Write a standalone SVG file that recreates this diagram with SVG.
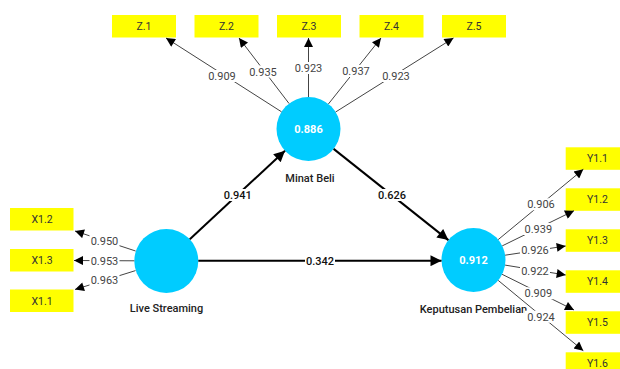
<svg xmlns="http://www.w3.org/2000/svg" width="620" height="369" viewBox="0 0 620 369">
<style>
.ind{fill:#ffff00}
.it{font-family:Roboto,"Liberation Sans",sans-serif;font-size:10.5px;fill:#333;text-anchor:middle}
.lv{fill:#00ccff}
.lvv{font-family:Roboto,"Liberation Sans",sans-serif;font-size:11px;font-weight:700;fill:#fff;text-anchor:middle}
.lvn{font-family:Roboto,"Liberation Sans",sans-serif;font-size:11px;font-weight:500;fill:#222;text-anchor:middle}
.ld{stroke:#444;stroke-width:1;fill:none;marker-end:url(#ah)}
.st{stroke:#000;stroke-width:2;fill:none;marker-end:url(#ahb)}
.lbg{fill:#fff}
.ll{font-family:Roboto,"Liberation Sans",sans-serif;font-size:11px;fill:#444;text-anchor:middle}
.sl{font-family:Roboto,"Liberation Sans",sans-serif;font-size:11px;font-weight:500;fill:#111;text-anchor:middle}
</style>
<defs>
<marker id="ah" viewBox="0 0 10 10" refX="10" refY="5" markerWidth="11" markerHeight="9" markerUnits="userSpaceOnUse" orient="auto"><path d="M0,0L10,5L0,10z" fill="#000"/></marker>
<marker id="ahb" viewBox="0 0 10 10" refX="10" refY="5" markerWidth="13" markerHeight="11" markerUnits="userSpaceOnUse" orient="auto"><path d="M0,0L10,5L0,10z" fill="#000"/></marker>
</defs>
<rect width="620" height="369" fill="#fff"/>

<g id="z1"><rect class="ind" x="112" y="15" width="64" height="22.5"/><text class="it" x="144" y="30">Z.1</text></g>
<g id="z2"><rect class="ind" x="194.5" y="15" width="64" height="22.5"/><text class="it" x="226.5" y="30">Z.2</text></g>
<g id="z3"><rect class="ind" x="277" y="15" width="64" height="22.5"/><text class="it" x="309" y="30">Z.3</text></g>
<g id="z4"><rect class="ind" x="359.5" y="15" width="64" height="22.5"/><text class="it" x="391.5" y="30">Z.4</text></g>
<g id="z5"><rect class="ind" x="442" y="15" width="64" height="22.5"/><text class="it" x="474" y="30">Z.5</text></g>

<g id="x12"><rect class="ind" x="10" y="208" width="63.5" height="22.5"/><text class="it" x="42" y="223">X1.2</text></g>
<g id="x13"><rect class="ind" x="10" y="249" width="63.5" height="22.5"/><text class="it" x="42" y="264">X1.3</text></g>
<g id="x11"><rect class="ind" x="10" y="289.5" width="63.5" height="22.5"/><text class="it" x="42" y="304.5">X1.1</text></g>

<g id="y11"><rect class="ind" x="565.7" y="147.3" width="64" height="22.5"/><text class="it" x="597.5" y="162.3">Y1.1</text></g>
<g id="y12"><rect class="ind" x="565.7" y="188.3" width="64" height="22.5"/><text class="it" x="597.5" y="203.3">Y1.2</text></g>
<g id="y13"><rect class="ind" x="565.7" y="229.3" width="64" height="22.5"/><text class="it" x="597.5" y="244.3">Y1.3</text></g>
<g id="y14"><rect class="ind" x="565.7" y="270.3" width="64" height="22.5"/><text class="it" x="597.5" y="285.3">Y1.4</text></g>
<g id="y15"><rect class="ind" x="565.7" y="311.3" width="64" height="22.5"/><text class="it" x="597.5" y="326.3">Y1.5</text></g>
<g id="y16"><rect class="ind" x="565.7" y="352.3" width="64" height="22.5"/><text class="it" x="597.5" y="367.3">Y1.6</text></g>

<g id="minat-beli"><circle class="lv" cx="308.5" cy="129" r="32"/><text class="lvv" x="308.5" y="133">0.886</text><text class="lvn" x="310" y="182">Minat Beli</text></g>
<g id="live-streaming"><circle class="lv" cx="166.3" cy="261" r="32"/><text class="lvn" x="166.5" y="312">Live Streaming</text></g>
<g id="keputusan-pembelian"><circle class="lv" cx="473.5" cy="260" r="32"/><text class="lvv" x="473.5" y="264">0.912</text><text class="lvn" x="473.5" y="313">Keputusan Pembelian</text></g>

<g id="connectors">
<line class="ld" x1="281.5" y1="111.8" x2="166" y2="38"/>
<line class="ld" x1="289.1" y1="103.6" x2="239" y2="38"/>
<line class="ld" x1="308.5" y1="97" x2="308.5" y2="38"/>
<line class="ld" x1="328.4" y1="104" x2="381" y2="38"/>
<line class="ld" x1="335.6" y1="112" x2="453.5" y2="38"/>
<line class="ld" x1="135.6" y1="251" x2="75" y2="231"/>
<line class="ld" x1="134.3" y1="260.8" x2="74" y2="260.5"/>
<line class="ld" x1="135.5" y1="270.6" x2="75" y2="289.5"/>
<line class="ld" x1="498.2" y1="239.6" x2="583.3" y2="169.3"/>
<line class="ld" x1="502.2" y1="245.9" x2="574" y2="210.7"/>
<line class="ld" x1="505.1" y1="255.2" x2="565.7" y2="246"/>
<line class="ld" x1="505.1" y1="265.1" x2="565.7" y2="275"/>
<line class="ld" x1="502.1" y1="274.3" x2="574" y2="310"/>
<line class="ld" x1="498.2" y1="280.4" x2="583.3" y2="350.7"/>
<line class="st" x1="189.8" y1="239.2" x2="285" y2="150.8"/>
<line class="st" x1="333.6" y1="148.9" x2="448.4" y2="240.1"/>
<line class="st" x1="198.3" y1="260.7" x2="441.5" y2="260.7"/>

<rect class="lbg" x="207" y="70" width="30" height="12"/><text class="ll" x="222" y="80">0.909</text>
<rect class="lbg" x="248" y="65.5" width="30" height="12"/><text class="ll" x="263" y="75.5">0.935</text>
<rect class="lbg" x="293.5" y="62" width="30" height="12"/><text class="ll" x="308.5" y="72">0.923</text>
<rect class="lbg" x="341" y="65" width="30" height="12"/><text class="ll" x="356" y="75">0.937</text>
<rect class="lbg" x="381" y="70" width="30" height="12"/><text class="ll" x="396" y="80">0.923</text>

<rect class="lbg" x="89.5" y="235" width="30" height="12"/><text class="ll" x="104.5" y="245">0.950</text>
<rect class="lbg" x="89.5" y="254.5" width="30" height="12"/><text class="ll" x="104.5" y="264.5">0.953</text>
<rect class="lbg" x="89.5" y="274" width="30" height="12"/><text class="ll" x="104.5" y="284">0.963</text>

<rect class="lbg" x="526" y="198.3" width="30" height="12"/><text class="ll" x="541" y="208.3">0.906</text>
<rect class="lbg" x="523.3" y="223" width="30" height="12"/><text class="ll" x="538.3" y="233">0.939</text>
<rect class="lbg" x="520" y="244" width="30" height="12"/><text class="ll" x="535" y="254">0.926</text>
<rect class="lbg" x="520" y="264.7" width="30" height="12"/><text class="ll" x="535" y="274.7">0.922</text>
<rect class="lbg" x="523.3" y="287.3" width="30" height="12"/><text class="ll" x="538.3" y="297.3">0.909</text>
<rect class="lbg" x="525" y="310.7" width="32" height="12"/><text class="ll" x="541" y="320.7">0.924</text>

<rect class="lbg" x="222.7" y="189" width="30" height="12"/><text class="sl" x="237.7" y="199">0.941</text>
<rect class="lbg" x="377" y="189" width="30" height="12"/><text class="sl" x="392" y="199">0.626</text>
<rect class="lbg" x="305" y="254.5" width="30" height="12"/><text class="sl" x="320" y="264.5">0.342</text>
</g>
</svg>
